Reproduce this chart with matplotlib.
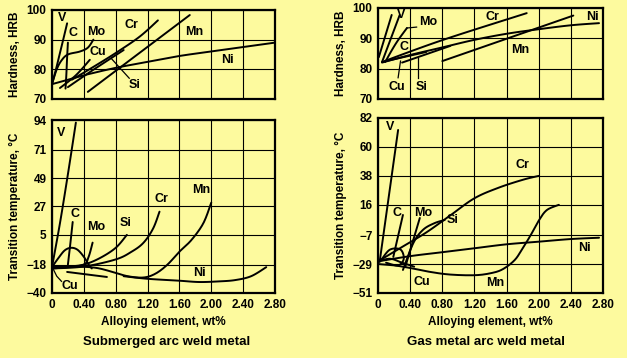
import matplotlib.pyplot as plt
import numpy as np

plt.rcParams['font.family'] = ['Liberation Sans', 'DejaVu Sans']
plt.rcParams['font.weight'] = 'bold'

BG = '#fdfa9e'

x_ticks = [0, 0.4, 0.8, 1.2, 1.6, 2.0, 2.4, 2.8]
x_labels = ['0', '0.40', '0.80', '1.20', '1.60', '2.00', '2.40', '2.80']
hrb_ticks = [70, 80, 90, 100]
saw_tt_ticks = [-40, -18, 5, 27, 49, 71, 94]
gmaw_tt_ticks = [-51, -29, -7, 16, 38, 60, 82]

# hardness, submerged arc weld metal (wt%, HRB)
saw_hrb = {
    'V': ([0.0, 0.05, 0.1, 0.15, 0.19], [75, 80, 85.5, 91, 95.5]),
    'C': ([0.17, 0.18, 0.19, 0.2], [73.5, 78, 84, 89]),
    'Mo': ([0.0, 0.06, 0.12, 0.2, 0.35, 0.45, 0.52], [75, 80, 83, 85, 86, 87.3, 90]),
    'Cu': ([0.1, 0.3, 0.475], [73.7, 78, 83.2]),
    'Cr': ([0.25, 0.5, 0.8, 1.1, 1.33], [76.5, 80.5, 85.5, 91, 96.5]),
    'Si': ([0.2, 0.5, 0.9], [74, 79.5, 86.5]),
    'Mn': ([0.45, 1.73], [72.4, 98.3]),
    'Ni': ([0.0, 0.2, 0.4, 0.8, 1.2, 1.6, 2.0, 2.4, 2.8], [75, 76.5, 78, 80.5, 82.5, 84.5, 86, 87.5, 89]),
}

# transition temperature, submerged arc weld metal (wt%, degC)
saw_tt = {
    'V': ([0.0, 0.1, 0.2, 0.3], [-20, 14, 52, 92]),
    'C': ([0.2, 0.23, 0.26], [-18, -2, 15]),
    'hump': ([0.0, 0.08, 0.16, 0.24, 0.32, 0.4, 0.46, 0.5], [-20, -13, -7, -5, -6.5, -12, -18, -21]),
    'Mo': ([0.0, 0.2, 0.4, 0.46, 0.51], [-21, -20, -18, -12, -1]),
    'Si': ([0.0, 0.2, 0.4, 0.6, 0.8, 0.94], [-20, -19.5, -18, -13, -5, 5]),
    'Cr': ([0.0, 0.4, 0.8, 1.0, 1.15, 1.27, 1.35], [-21, -19.5, -14, -8, -1, 10, 23]),
    'Mn': ([0.0, 0.3, 0.55, 0.75, 0.95, 1.15, 1.3, 1.45, 1.6, 1.75, 1.9, 2.0],
           [-20, -19.5, -20.5, -23.5, -27, -28, -25, -18, -8, 1, 14, 30]),
    'Ni': ([0.9, 1.2, 1.6, 1.85, 2.1, 2.3, 2.5, 2.69], [-27, -29, -30.5, -31.5, -31, -30, -27, -20]),
    'Cu': ([0.19, 0.69], [-23.7, -27.6]),
}

# hardness, gas metal arc weld metal (wt%, HRB)
gmaw_hrb = {
    'C': ([0.01, 0.17], [83.8, 97.7]),
    'V': ([0.05, 0.27], [82.2, 97.7]),
    'Mo': ([0.09, 0.17, 0.25, 0.36], [82.2, 86, 89.4, 93.4]),
    'Cr': ([0.05, 0.8, 1.85], [82.2, 89.4, 98.3]),
    'Ni': ([0.05, 0.4, 0.8, 1.2, 1.6, 2.0, 2.4, 2.75], [82, 84.5, 87, 89.5, 91.5, 93, 94.3, 95]),
    'Mn': ([0.8, 2.43], [82.5, 97.5]),
    'Cu': ([0.1, 0.6], [82.5, 85.5]),
    'Si': ([0.3, 0.9], [82, 87.5]),
}

# transition temperature, gas metal arc weld metal (wt%, degC)
gmaw_tt = {
    'V': ([0.02, 0.25], [-27.4, 72.9]),
    'Cr': ([0.0, 0.3, 0.6, 0.9, 1.2, 1.5, 1.8, 2.0], [-27, -16, -5, 8, 21, 29, 35, 38]),
    'Mn': ([0.0, 0.2, 0.4, 0.65, 0.9, 1.2, 1.4, 1.55, 1.7, 1.8, 1.9, 2.0, 2.1, 2.25],
           [-29, -30, -32, -35, -37, -37.5, -36, -33, -26, -17, -7, 4, 12, 16]),
    'Ni': ([0.0, 0.4, 0.8, 1.2, 1.6, 2.0, 2.4, 2.75], [-27, -23, -20, -17, -14, -12, -10, -9]),
    'Si': ([0.31, 0.44, 0.56, 0.7, 0.83], [-33.5, -13, -3, 2, 4.5]),
    'C': ([0.19, 0.31], [-23.6, 8.3]),
    'Mo': ([0.34, 0.52], [-31, 6]),
    'Cu': ([0.0, 0.15, 0.3, 0.45], [-27, -25, -28, -31]),
    'loop': ([0.05, 0.15, 0.28, 0.32, 0.25, 0.1], [-25, -18, -18, -25, -30, -28]),
}

fig = plt.figure(figsize=(6.27, 3.58), dpi=100, facecolor=BG)


def smooth(xs, ys, n=16):
    # Catmull-Rom through the read points, just for drawing
    p = np.column_stack([xs, ys]).astype(float)
    if len(p) < 3:
        return p[:, 0], p[:, 1]
    pad = np.vstack([p[0], p, p[-1]])
    out = []
    t = np.linspace(0, 1, n, endpoint=False)[:, None]
    for i in range(1, len(pad) - 2):
        p0, p1, p2, p3 = pad[i - 1], pad[i], pad[i + 1], pad[i + 2]
        seg = 0.5 * ((2 * p1) + (-p0 + p2) * t + (2 * p0 - 5 * p1 + 4 * p2 - p3) * t ** 2
                     + (-p0 + 3 * p1 - 3 * p2 + p3) * t ** 3)
        out.append(seg)
    out.append(p[-1:])
    out = np.vstack(out)
    return out[:, 0], out[:, 1]


def style_axes(ax, yticks, ylim, ylabels=None, show_x=True):
    ax.set_facecolor(BG)
    ax.set_xlim(0, 2.8)
    ax.set_ylim(*ylim)
    ax.set_xticks(x_ticks)
    ax.set_yticks(yticks)
    ax.set_yticklabels(ylabels if ylabels else [str(t) for t in yticks])
    if show_x:
        ax.set_xticklabels(x_labels)
    else:
        ax.set_xticklabels([])
    ax.grid(True, color='black', lw=0.8)
    ax.tick_params(length=0, pad=4, labelsize=8.5)
    for lab in ax.get_xticklabels() + ax.get_yticklabels():
        lab.set_fontweight('bold')
    for s in ax.spines.values():
        s.set_linewidth(1.6)


def draw(ax, data):
    for name, (xs, ys) in data.items():
        sx, sy = smooth(xs, ys)
        ax.plot(sx, sy, color='black', lw=1.4, solid_capstyle='round')


def label(ax, x, y, s):
    ax.text(x, y, s, ha='center', va='center', fontsize=9, fontweight='bold')


def minus(ticks):
    return [str(t).replace('-', '\u2212') for t in ticks]


ylab_kw = dict(fontsize=8.5, fontweight='bold', labelpad=4)

# left top
ax1 = fig.add_axes([0.0829, 0.7235, 0.3557, 0.2486])
style_axes(ax1, hrb_ticks, (70, 100), show_x=False)
draw(ax1, saw_hrb)
ax1.set_ylabel('Hardness, HRB', **ylab_kw)
label(ax1, 0.125, 97.3, 'V')
label(ax1, 0.26, 92.3, 'C')
label(ax1, 0.55, 92.6, 'Mo')
label(ax1, 0.58, 85.9, 'Cu')
label(ax1, 1.0, 95, 'Cr')
label(ax1, 1.79, 92.6, 'Mn')
label(ax1, 2.2, 83.2, 'Ni')
label(ax1, 1.04, 74.7, 'Si')
ax1.plot([0.97, 0.75], [77, 83.5], color='black', lw=0.9)

# left bottom
ax2 = fig.add_axes([0.0829, 0.1816, 0.3557, 0.4832])
style_axes(ax2, saw_tt_ticks, (-40, 94), minus(saw_tt_ticks))
draw(ax2, saw_tt)
ax2.set_ylabel('Transition temperature, \u00b0C', **ylab_kw)
ax2.set_xlabel('Alloying element, wt%', fontsize=8.5, fontweight='bold', labelpad=4)
label(ax2, 0.12, 84, 'V')
label(ax2, 0.29, 21, 'C')
label(ax2, 0.56, 11, 'Mo')
label(ax2, 0.93, 14, 'Si')
label(ax2, 1.38, 33, 'Cr')
label(ax2, 1.87, 40, 'Mn')
label(ax2, 1.85, -24.5, 'Ni')
label(ax2, 0.22, -34.5, 'Cu')
ax2.plot([0.02, 0.06, 0.12], [-22, -27, -31], color='black', lw=0.9)

# right top
ax3 = fig.add_axes([0.6029, 0.7235, 0.3589, 0.2542])
style_axes(ax3, hrb_ticks, (70, 100), show_x=False)
draw(ax3, gmaw_hrb)
ax3.set_ylabel('Hardness, HRB', **ylab_kw)
label(ax3, 0.29, 97.7, 'V')
label(ax3, 0.62, 95.4, 'Mo')
label(ax3, 0.32, 87.1, 'C')
label(ax3, 1.42, 97, 'Cr')
label(ax3, 2.67, 97, 'Ni')
label(ax3, 1.77, 86.1, 'Mn')
label(ax3, 0.24, 73.9, 'Cu')
label(ax3, 0.54, 73.9, 'Si')
ax3.plot([0.36, 0.48], [93.4, 93.7], color='black', lw=0.9)
ax3.plot([0.25, 0.28], [77, 82.5], color='black', lw=0.9)
ax3.plot([0.5, 0.5], [77, 83.5], color='black', lw=0.9)

# right bottom
ax4 = fig.add_axes([0.6029, 0.1816, 0.3589, 0.4888])
style_axes(ax4, gmaw_tt_ticks, (-51, 82), minus(gmaw_tt_ticks))
draw(ax4, gmaw_tt)
ax4.set_ylabel('Transition temperature, \u00b0C', **ylab_kw)
ax4.set_xlabel('Alloying element, wt%', fontsize=8.5, fontweight='bold', labelpad=4)
label(ax4, 0.15, 75, 'V')
label(ax4, 1.8, 46, 'Cr')
label(ax4, 0.24, 10, 'C')
label(ax4, 0.56, 10, 'Mo')
label(ax4, 0.93, 4.5, 'Si')
label(ax4, 2.57, -16.8, 'Ni')
label(ax4, 1.46, -43.4, 'Mn')
label(ax4, 0.55, -42.6, 'Cu')

fig.text(0.265, 0.045, 'Submerged arc weld metal', ha='center', va='center',
         fontsize=9.5, fontweight='bold')
fig.text(0.775, 0.045, 'Gas metal arc weld metal', ha='center', va='center',
         fontsize=9.5, fontweight='bold')

fig.savefig('out.png', dpi=100, facecolor=BG)
